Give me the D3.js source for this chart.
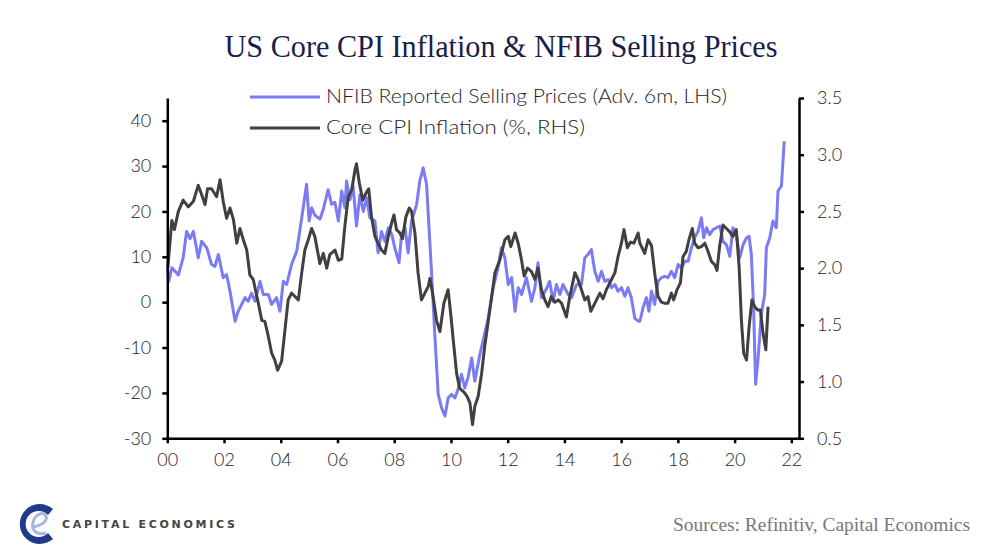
<!DOCTYPE html>
<html>
<head>
<meta charset="utf-8">
<script src="https://d3js.org/d3.v7.min.js"></script>
<style>
  body { margin: 0; background: #fff; }
  svg { display: block; }
</style>
</head>
<body>
<div id="chart"></div>
<script>
// NFIB reported selling prices, advanced 6 months (LHS)
var nfibDates = [2000.00, 2000.05, 2000.16, 2000.39, 2000.56, 2000.68, 2000.80, 2000.92, 2001.09, 2001.21,
  2001.39, 2001.56, 2001.68, 2001.80, 2001.97, 2002.09, 2002.21, 2002.39, 2002.50, 2002.74,
  2002.85, 2002.97, 2003.09, 2003.27, 2003.38, 2003.56, 2003.68, 2003.85, 2003.97, 2004.09,
  2004.21, 2004.38, 2004.56, 2004.74, 2004.91, 2005.00, 2005.09, 2005.20, 2005.38, 2005.50,
  2005.67, 2005.79, 2005.91, 2006.03, 2006.15, 2006.26, 2006.32, 2006.44, 2006.55, 2006.67,
  2006.79, 2006.91, 2007.03, 2007.14, 2007.32, 2007.43, 2007.55, 2007.67, 2007.79, 2007.91,
  2008.02, 2008.17, 2008.26, 2008.38, 2008.49, 2008.61, 2008.79, 2008.90, 2009.02, 2009.14,
  2009.32, 2009.43, 2009.55, 2009.67, 2009.79, 2009.90, 2010.02, 2010.14, 2010.25, 2010.37,
  2010.49, 2010.61, 2010.73, 2010.84, 2011.02, 2011.13, 2011.31, 2011.49, 2011.66, 2011.78,
  2011.90, 2012.02, 2012.14, 2012.26, 2012.37, 2012.49, 2012.66, 2012.84, 2012.96, 2013.07,
  2013.19, 2013.37, 2013.48, 2013.60, 2013.72, 2013.84, 2013.95, 2014.13, 2014.25, 2014.43,
  2014.60, 2014.72, 2014.83, 2014.95, 2015.07, 2015.19, 2015.31, 2015.42, 2015.54, 2015.66,
  2015.78, 2015.89, 2016.01, 2016.13, 2016.24, 2016.36, 2016.48, 2016.60, 2016.66, 2016.77,
  2016.89, 2016.98, 2017.07, 2017.18, 2017.30, 2017.42, 2017.54, 2017.65, 2017.77, 2017.89,
  2018.01, 2018.13, 2018.24, 2018.36, 2018.48, 2018.59, 2018.71, 2018.83, 2018.91, 2019.01,
  2019.12, 2019.24, 2019.36, 2019.48, 2019.59, 2019.71, 2019.83, 2019.94, 2020.06, 2020.18,
  2020.30, 2020.42, 2020.51, 2020.59, 2020.67, 2020.74, 2020.82, 2020.94, 2021.06, 2021.12,
  2021.24, 2021.35, 2021.47, 2021.53, 2021.65, 2021.75];
var nfibValues = [7.5, 4.6, 7.6, 6.0, 9.8, 15.6, 14.0, 15.6, 9.8, 13.4,
  12.0, 8.3, 7.9, 10.5, 5.4, 6.1, 2.4, -4.2, -2.0, 1.0,
  0.2, 2.0, 0.2, 4.6, 1.7, 1.7, -0.5, 1.0, -2.0, 4.6,
  3.9, 8.3, 11.2, 18.6, 26.0, 17.9, 20.8, 19.2, 18.3, 20.5,
  24.8, 21.6, 22.0, 17.9, 24.5, 20.8, 26.7, 22.6, 25.6, 16.8,
  23.7, 20.0, 23.0, 18.6, 17.9, 10.9, 15.6, 13.4, 16.4, 15.0,
  12.0, 8.7, 15.0, 16.4, 10.9, 17.9, 21.5, 26.7, 29.6, 26.0,
  6.1, -7.1, -20.3, -23.3, -25.1, -21.1, -20.3, -21.1, -19.2, -15.9,
  -18.9, -16.4, -12.3, -17.4, -11.5, -8.6, -3.5, 3.2, 7.6, 12.0,
  9.8, 3.9, 5.4, -2.0, 3.2, 1.7, 5.4, 0.2, 3.2, 8.7,
  1.0, 3.0, 4.6, 0.2, 3.9, 1.7, 3.9, 1.7, 1.0, 3.9,
  3.9, 9.8, 10.5, 11.6, 6.8, 4.6, 6.8, 4.6, 5.0, 3.2,
  3.9, 2.4, 3.2, 1.3, 3.2, 1.0, -3.5, -4.2, -4.2, -1.3,
  1.0, -2.0, 2.4, -0.5, 4.6, 5.4, 5.7, 5.4, 6.8, 5.4,
  8.3, 7.5, 9.0, 9.0, 12.0, 14.2, 15.6, 18.6, 14.2, 16.4,
  14.9, 16.0, 16.4, 16.8, 13.4, 12.7, 10.1, 16.4, 14.9, 9.8,
  12.7, 14.2, 14.5, 10.5, -1.3, -18.1, -13.0, -2.7, 1.7, 12.0,
  14.2, 17.9, 16.4, 24.5, 25.6, 35.5];

// Core CPI inflation, % y/y (RHS)
var cpiDates = [2000.02, 2000.16, 2000.25, 2000.39, 2000.56, 2000.74, 2000.92, 2001.09, 2001.21, 2001.33,
  2001.42, 2001.56, 2001.74, 2001.86, 2001.97, 2002.09, 2002.21, 2002.33, 2002.45, 2002.56,
  2002.68, 2002.80, 2002.91, 2003.03, 2003.21, 2003.33, 2003.44, 2003.56, 2003.68, 2003.79,
  2003.89, 2004.03, 2004.15, 2004.26, 2004.38, 2004.50, 2004.62, 2004.74, 2004.85, 2004.97,
  2005.09, 2005.20, 2005.38, 2005.50, 2005.62, 2005.73, 2005.91, 2006.03, 2006.15, 2006.26,
  2006.38, 2006.50, 2006.62, 2006.67, 2006.77, 2006.89, 2007.00, 2007.10, 2007.20, 2007.32,
  2007.43, 2007.55, 2007.67, 2007.79, 2007.91, 2007.99, 2008.08, 2008.20, 2008.29, 2008.41,
  2008.53, 2008.61, 2008.73, 2008.84, 2008.96, 2009.08, 2009.20, 2009.26, 2009.37, 2009.49,
  2009.61, 2009.75, 2009.90, 2009.99, 2010.08, 2010.20, 2010.31, 2010.45, 2010.57, 2010.67,
  2010.76, 2010.84, 2010.96, 2011.08, 2011.19, 2011.37, 2011.55, 2011.72, 2011.90, 2012.02,
  2012.11, 2012.26, 2012.37, 2012.49, 2012.58, 2012.70, 2012.84, 2012.96, 2013.07, 2013.19,
  2013.31, 2013.42, 2013.54, 2013.66, 2013.78, 2013.90, 2014.07, 2014.19, 2014.37, 2014.48,
  2014.60, 2014.72, 2014.83, 2014.93, 2015.07, 2015.25, 2015.36, 2015.48, 2015.66, 2015.78,
  2015.89, 2016.01, 2016.10, 2016.22, 2016.33, 2016.45, 2016.60, 2016.66, 2016.83, 2016.95,
  2017.07, 2017.18, 2017.30, 2017.42, 2017.54, 2017.65, 2017.77, 2017.85, 2017.97, 2018.09,
  2018.18, 2018.30, 2018.39, 2018.51, 2018.59, 2018.71, 2018.83, 2018.95, 2019.06, 2019.18,
  2019.30, 2019.38, 2019.47, 2019.59, 2019.71, 2019.83, 2019.94, 2020.06, 2020.16, 2020.24,
  2020.32, 2020.42, 2020.51, 2020.61, 2020.71, 2020.82, 2020.91, 2021.00, 2021.10, 2021.18];
var cpiValues = [2.01, 2.42, 2.34, 2.50, 2.60, 2.54, 2.59, 2.73, 2.65, 2.56,
  2.70, 2.70, 2.63, 2.78, 2.59, 2.44, 2.53, 2.43, 2.22, 2.35,
  2.25, 2.16, 1.94, 1.90, 1.69, 1.54, 1.53, 1.40, 1.25, 1.19,
  1.10, 1.18, 1.46, 1.72, 1.78, 1.75, 1.72, 1.96, 2.16, 2.25,
  2.35, 2.28, 2.04, 2.13, 2.00, 2.12, 2.16, 2.07, 2.08, 2.37,
  2.63, 2.69, 2.87, 2.92, 2.75, 2.60, 2.66, 2.70, 2.45, 2.28,
  2.22, 2.16, 2.13, 2.28, 2.40, 2.47, 2.34, 2.31, 2.26, 2.45,
  2.53, 2.50, 2.31, 1.96, 1.72, 1.78, 1.84, 1.91, 1.75, 1.54,
  1.44, 1.69, 1.81, 1.60, 1.37, 1.07, 0.94, 0.91, 0.87, 0.81,
  0.62, 0.78, 0.87, 1.07, 1.31, 1.63, 1.96, 2.07, 2.25, 2.28,
  2.19, 2.31, 2.22, 2.07, 1.93, 2.00, 1.97, 1.90, 2.00, 1.81,
  1.72, 1.66, 1.75, 1.70, 1.72, 1.69, 1.57, 1.75, 1.96, 1.90,
  1.81, 1.72, 1.75, 1.62, 1.69, 1.78, 1.73, 1.81, 1.90, 1.96,
  2.10, 2.22, 2.34, 2.18, 2.23, 2.22, 2.31, 2.22, 2.13, 2.25,
  2.20, 1.96, 1.75, 1.70, 1.69, 1.69, 1.78, 1.72, 1.81, 1.87,
  2.10, 2.15, 2.25, 2.35, 2.22, 2.18, 2.19, 2.22, 2.15, 2.06,
  2.03, 1.98, 2.19, 2.38, 2.35, 2.32, 2.28, 2.34, 2.01, 1.54,
  1.25, 1.19, 1.48, 1.72, 1.66, 1.63, 1.63, 1.43, 1.28, 1.66];

var leftTicks = [-30, -20, -10, 0, 10, 20, 30, 40];
var rightTicks = [0.5, 1.0, 1.5, 2.0, 2.5, 3.0, 3.5];
var yearTicks = [2000, 2002, 2004, 2006, 2008, 2010, 2012, 2014, 2016, 2018, 2020, 2022];
var seriesNames = ["NFIB Reported Selling Prices (Adv. 6m, LHS)", "Core CPI Inflation (%, RHS)"];

var width = 983, height = 559;
var margin = {left: 167.3, right: 799, top: 98, bottom: 438.3};
var blue = "#7b7cf5", dark = "#404040";
var tickFont = "Lato, 'Open Sans', sans-serif";

var svg = d3.select("#chart").append("svg")
    .attr("width", width).attr("height", height);

var x = d3.scaleLinear().domain([2000, 2022.27]).range([margin.left, margin.right]);
var yL = d3.scaleLinear().domain([-30, 45]).range([margin.bottom, margin.top]);
var yR = d3.scaleLinear().domain([0.5, 3.5]).range([margin.bottom, margin.top]);

// title
svg.append("text")
    .attr("x", 501).attr("y", 57)
    .attr("text-anchor", "middle")
    .attr("textLength", 553).attr("lengthAdjust", "spacingAndGlyphs")
    .style("font-family", "'Liberation Serif', 'DejaVu Serif', serif")
    .style("font-size", "31px")
    .style("fill", "#1a1c4a")
    .text("US Core CPI Inflation & NFIB Selling Prices");

// lines
var nfib = nfibDates.map((d, i) => [d, nfibValues[i]]);
var cpi = cpiDates.map((d, i) => [d, cpiValues[i]]);

svg.append("path")
    .datum(nfib)
    .attr("fill", "none")
    .attr("stroke", blue)
    .attr("stroke-width", 3)
    .attr("stroke-linejoin", "round")
    .attr("d", d3.line().x(d => x(d[0])).y(d => yL(d[1])));

svg.append("path")
    .datum(cpi)
    .attr("fill", "none")
    .attr("stroke", dark)
    .attr("stroke-width", 3)
    .attr("stroke-linejoin", "round")
    .attr("d", d3.line().x(d => x(d[0])).y(d => yR(d[1])));

// axes
function styleAxis(g) {
    g.selectAll(".domain").attr("stroke", "#000").attr("stroke-width", 2.5);
    g.selectAll(".tick line").attr("stroke", "#000").attr("stroke-width", 2.5);
    g.selectAll(".tick text")
        .style("font-family", tickFont)
        .style("font-weight", 300)
        .style("font-size", "18px")
        .style("fill", "#222");
}

svg.append("g")
    .attr("transform", `translate(${margin.left},0)`)
    .call(d3.axisLeft(yL).tickValues(leftTicks).tickSize(5).tickSizeOuter(0).tickPadding(11)
        .tickFormat(d => String(d)))
    .call(styleAxis);

svg.append("g")
    .attr("transform", `translate(${margin.right},0)`)
    .call(d3.axisRight(yR).tickValues(rightTicks).tickSize(5).tickSizeOuter(0)
        .tickPadding(13).tickFormat(d3.format(".1f")))
    .call(styleAxis);

svg.append("g")
    .attr("transform", `translate(0,${margin.bottom})`)
    .call(d3.axisBottom(x).tickValues(yearTicks).tickSize(5).tickSizeOuter(0)
        .tickPadding(10).tickFormat(d => d3.format("02d")(d % 100)))
    .call(styleAxis);

// legend
var legend = svg.append("g");
[blue, dark].forEach(function (c, i) {
    var ly = 97 + i * 31;
    legend.append("line")
        .attr("x1", 250).attr("x2", 320)
        .attr("y1", ly).attr("y2", ly)
        .attr("stroke", c).attr("stroke-width", 3);
    legend.append("text")
        .attr("x", 326).attr("y", ly + 6)
        .attr("textLength", i == 0 ? 401 : 259)
        .attr("lengthAdjust", "spacingAndGlyphs")
        .style("font-family", tickFont)
        .style("font-weight", 300)
        .style("font-size", "19px")
        .style("fill", "#222")
        .text(seriesNames[i]);
});

// footer: logo and sources
var logo = svg.append("g");
logo.append("path")
    .attr("d", "M53,509 A20,20 0 1,0 53,539 L48,533 A13,13 0 1,1 48,515 Z")
    .attr("fill", "#1f3c8c");
logo.append("path")
    .attr("d", "M33,527 C40,526 48,522 46,516 C44,511 35,514 33,522 C31,530 37,536 46,533")
    .attr("fill", "none").attr("stroke", "#a9b6e0").attr("stroke-width", 3);
logo.append("text")
    .attr("x", 62).attr("y", 528)
    .attr("textLength", 173)
    .style("font-family", "'DejaVu Sans', sans-serif")
    .style("font-size", "11px")
    .style("font-weight", "bold")
    .style("fill", "#444")
    .text("CAPITAL ECONOMICS");

svg.append("text")
    .attr("x", 970).attr("y", 531)
    .attr("text-anchor", "end")
    .attr("textLength", 297).attr("lengthAdjust", "spacingAndGlyphs")
    .style("font-family", "'Liberation Serif', serif")
    .style("font-size", "18px")
    .style("fill", "#777")
    .text("Sources: Refinitiv, Capital Economics");
</script>
</body>
</html>
